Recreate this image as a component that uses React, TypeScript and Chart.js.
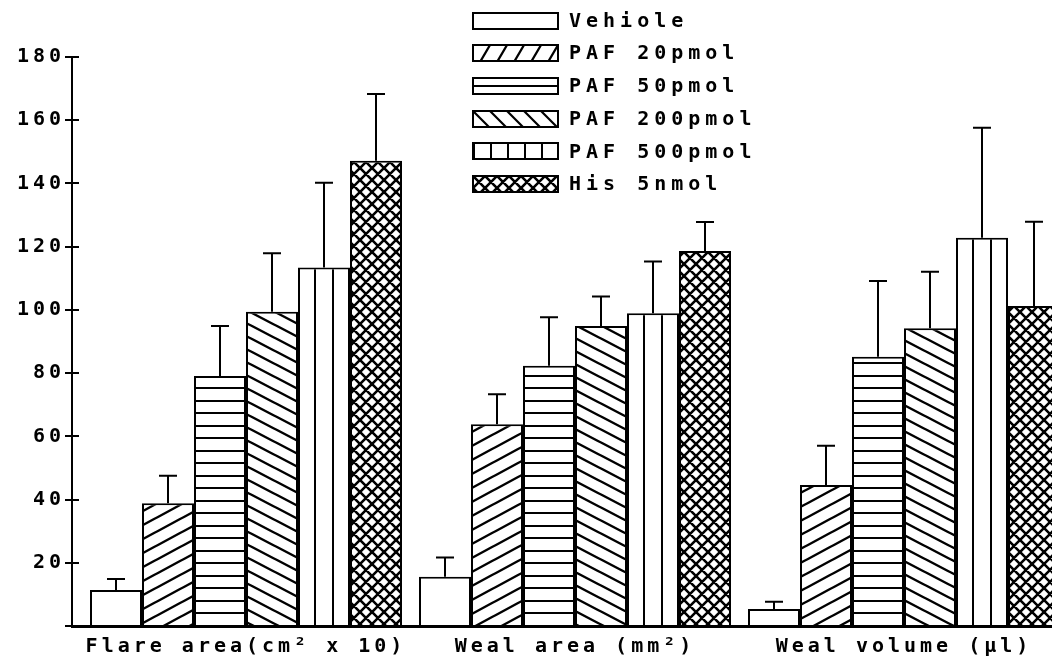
import React, { useEffect, useRef } from "react";
import { Chart, registerables } from "chart.js";

Chart.register(...registerables);

// ---------------- data ----------------
const categories = ["Flare area(cm² x 10)", "Weal area (mm²)", "Weal volume (µl)"];
const seriesLabels = ["Vehiole", "PAF 20pmol", "PAF 50pmol", "PAF 200pmol", "PAF 500pmol", "His 5nmol"];

const vehicle = [11.4, 15.6, 5.4];
const paf20 = [38.8, 63.8, 44.6];
const paf50 = [79.1, 82.3, 85.2];
const paf200 = [99.4, 94.9, 94.2];
const paf500 = [113.4, 98.9, 122.8];
const his = [147.2, 118.6, 101.2];

const vehicleErr = [3.5, 6.1, 2.3];
const paf20Err = [8.7, 9.5, 12.4];
const paf50Err = [15.8, 15.4, 23.9];
const paf200Err = [18.5, 9.3, 17.9];
const paf500Err = [26.8, 16.4, 34.8];
const hisErr = [21.1, 9.2, 26.7];

const yMin = 0;
const yMax = 180;
const yStep = 20;

const seriesValues = [vehicle, paf20, paf50, paf200, paf500, his];
const seriesErrors = [vehicleErr, paf20Err, paf50Err, paf200Err, paf500Err, hisErr];

// ---------------- layout / style ----------------
const FAMILY = "'DejaVu Sans Mono', 'Liberation Mono', monospace";
const FONT_SIZE = 20;
const LETTER_SPACING = "4px";
const LEGEND_SPACING = "5px";
const CAT_PCT = 312 / 329;
const Y_AXIS_WIDTH = 72;
const X_AXIS_HEIGHT = 32;
const PITCH = 329;
const X_MIN = -174 / PITCH;
const X_MAX = X_MIN + (1052 - Y_AXIS_WIDTH) / PITCH;

type Draw = (g: CanvasRenderingContext2D, w: number, h: number) => void;

function makeTile(w: number, h: number, draw: Draw): HTMLCanvasElement {
  const c = document.createElement("canvas");
  c.width = w;
  c.height = h;
  const g = c.getContext("2d")!;
  g.fillStyle = "#fff";
  g.fillRect(0, 0, w, h);
  g.strokeStyle = "#000";
  g.fillStyle = "#000";
  draw(g, w, h);
  return c;
}

function diagLines(g: CanvasRenderingContext2D, w: number, h: number, dir: number) {
  for (const dy of [-h, 0, h]) {
    if (dir === 1) {
      g.moveTo(-w, 2 * h + dy);
      g.lineTo(2 * w, -h + dy);
    } else {
      g.moveTo(-w, -h + dy);
      g.lineTo(2 * w, 2 * h + dy);
    }
  }
}

function diagPattern(ctx: CanvasRenderingContext2D, w: number, h: number, lw: number, dir: number) {
  const tile = makeTile(w, h, (g) => {
    g.lineWidth = lw;
    g.beginPath();
    diagLines(g, w, h, dir);
    g.stroke();
  });
  return ctx.createPattern(tile, "repeat")!;
}

function crossPattern(ctx: CanvasRenderingContext2D, w: number, h: number, lw: number) {
  const tile = makeTile(w, h, (g) => {
    g.lineWidth = lw;
    g.beginPath();
    diagLines(g, w, h, 1);
    diagLines(g, w, h, -1);
    g.stroke();
  });
  return ctx.createPattern(tile, "repeat")!;
}

function horizPattern(ctx: CanvasRenderingContext2D, ys: number[], h: number) {
  const tile = makeTile(4, h, (g) => {
    ys.forEach((y) => g.fillRect(0, y, 4, 2));
  });
  return ctx.createPattern(tile, "repeat")!;
}

function vertPatternSimple(ctx: CanvasRenderingContext2D, w: number) {
  const tile = makeTile(w, 4, (g) => {
    g.fillRect(0, 0, 2, 4);
  });
  return ctx.createPattern(tile, "repeat")!;
}

// vertical lines at thirds of the PAF 500 bars, aligned through the x scale
function verticalBarPattern(chart: any) {
  const xs = chart.scales && chart.scales.x;
  if (!xs) return "#fff";
  const p0 = xs.getPixelForValue(0);
  const p1 = xs.getPixelForValue(1);
  const pitch = p1 - p0;
  if (!isFinite(pitch) || pitch <= 0) return "#fff";
  const size = pitch * CAT_PCT;
  const chunk = size / seriesLabels.length;
  const barLeft = p0 - size / 2 + 4 * chunk;
  const W = Math.max(1, Math.round(pitch));
  const tile = makeTile(W, 4, (g) => {
    [1, 2].forEach((k) => {
      const x = (((barLeft + (k * chunk) / 3) % W) + W) % W;
      g.fillRect(Math.round(x) - 1, 0, 2, 4);
    });
  });
  return chart.ctx.createPattern(tile, "repeat");
}

const spacingPlugin = {
  id: "letterSpacing",
  beforeUpdate(chart: any) {
    chart.ctx.letterSpacing = LETTER_SPACING;
  },
  beforeLayout(chart: any) {
    chart.ctx.letterSpacing = LETTER_SPACING;
  },
  beforeDraw(chart: any) {
    chart.ctx.letterSpacing = LETTER_SPACING;
  },
};

const innerTicksPlugin = {
  id: "innerTicks",
  afterDraw(chart: any) {
    const ys = chart.scales.y;
    const { ctx, chartArea } = chart;
    ctx.save();
    ctx.strokeStyle = "#000";
    ctx.lineWidth = 2;
    ys.ticks.forEach((t: any, i: number) => {
      if (t.value === 0) return;
      const y = Math.round(ys.getPixelForTick(i));
      ctx.beginPath();
      ctx.moveTo(chartArea.left, y);
      ctx.lineTo(chartArea.left + 7, y);
      ctx.stroke();
    });
    ctx.restore();
  },
};

const errorBarPlugin = {
  id: "errorBars",
  afterDatasetsDraw(chart: any) {
    const { ctx } = chart;
    const ys = chart.scales.y;
    ctx.save();
    ctx.strokeStyle = "#000";
    ctx.lineWidth = 2;
    chart.data.datasets.forEach((_: any, d: number) => {
      const meta = chart.getDatasetMeta(d);
      meta.data.forEach((el: any, i: number) => {
        const v = seriesValues[d][i];
        const e = seriesErrors[d][i];
        const x = Math.round(el.x);
        const yTop = ys.getPixelForValue(v);
        const yErr = ys.getPixelForValue(v + e);
        ctx.beginPath();
        ctx.moveTo(x, yTop);
        ctx.lineTo(x, yErr);
        ctx.moveTo(x - 9, yErr);
        ctx.lineTo(x + 9, yErr);
        ctx.stroke();
      });
    });
    ctx.restore();
  },
};

function makeLegendPlugin(fills: (string | CanvasPattern)[]) {
  return {
    id: "patternLegend",
    afterDraw(chart: any) {
      const ctx = chart.ctx;
      ctx.save();
      ctx.letterSpacing = LEGEND_SPACING;
      ctx.font = `bold ${FONT_SIZE}px ${FAMILY}`;
      ctx.textBaseline = "middle";
      ctx.textAlign = "left";
      seriesLabels.forEach((label, d) => {
        const cy = 20.5 + d * 32.7;
        const sx = 473;
        const sy = Math.round(cy - 8);
        const sw = 85;
        const sh = 16;
        ctx.save();
        ctx.translate(sx, sy);
        ctx.fillStyle = fills[d];
        ctx.fillRect(0, 0, sw, sh);
        ctx.restore();
        ctx.lineWidth = 2;
        ctx.strokeStyle = "#000";
        ctx.strokeRect(sx, sy, sw, sh);
        ctx.fillStyle = "#000";
        ctx.fillText(label, 569, cy + 1);
      });
      ctx.restore();
    },
  };
}

export default function App() {
  const canvasRef = useRef<HTMLCanvasElement | null>(null);

  useEffect(() => {
    const canvas = canvasRef.current;
    if (!canvas) return;
    const ctx = canvas.getContext("2d")!;

    const barFills: any[] = [
      "#fff",
      diagPattern(ctx, 26, 14, 2.4, 1),
      horizPattern(ctx, [0, 12], 25),
      diagPattern(ctx, 25, 13, 2.4, -1),
      (c: any) => verticalBarPattern(c.chart),
      crossPattern(ctx, 12, 12, 2.6),
    ];
    const legendFills = [
      "#fff",
      diagPattern(ctx, 17, 29, 2.2, 1),
      horizPattern(ctx, [7], 16),
      diagPattern(ctx, 17, 17, 2.2, -1),
      vertPatternSimple(ctx, 17),
      crossPattern(ctx, 12, 12, 2.6),
    ];

    const font = { family: FAMILY, size: FONT_SIZE, weight: "bold" as const };

    const chart = new Chart(ctx, {
      type: "bar",
      data: {
        datasets: seriesLabels.map((label, d) => ({
          label,
          data: seriesValues[d].map((v, i) => ({ x: i, y: v })),
          backgroundColor: barFills[d],
          borderColor: "#000",
          borderWidth: 2,
          borderSkipped: "start" as const,
          categoryPercentage: CAT_PCT,
          barPercentage: 1,
        })),
      },
      options: {
        animation: false,
        responsive: true,
        maintainAspectRatio: false,
        devicePixelRatio: 1,
        events: [],
        layout: { padding: { top: 57, right: 0, bottom: 0, left: 0 } },
        plugins: {
          legend: { display: false },
          tooltip: { enabled: false },
        },
        scales: {
          x: {
            type: "linear",
            offset: false,
            min: X_MIN,
            max: X_MAX,
            grid: { display: false, drawTicks: false, offset: false },
            border: { display: true, color: "#000", width: 3, z: 1 },
            afterBuildTicks: (s: any) => {
              s.ticks = categories.map((_, i) => ({ value: i }));
            },
            afterFit: (s: any) => {
              s.height = X_AXIS_HEIGHT;
            },
            ticks: {
              autoSkip: false,
              maxRotation: 0,
              minRotation: 0,
              padding: 9,
              color: "#000",
              font,
              callback: (v: any) => categories[Math.round(Number(v))] ?? "",
            },
          },
          y: {
            min: yMin,
            max: yMax,
            afterFit: (s: any) => {
              s.width = Y_AXIS_WIDTH;
            },
            grid: {
              display: true,
              drawOnChartArea: false,
              drawTicks: true,
              tickLength: 7,
              color: "#000",
              lineWidth: 2,
            },
            border: { display: true, color: "#000", width: 2, z: 1 },
            ticks: {
              stepSize: yStep,
              padding: 0,
              color: "#000",
              font,
              callback: (v: any) => (Number(v) === 0 ? "" : String(v)),
            },
          },
        },
      },
      plugins: [spacingPlugin, innerTicksPlugin, errorBarPlugin, makeLegendPlugin(legendFills)],
    } as any);

    return () => {
      chart.destroy();
    };
  }, []);

  return (
    <div
      style={{
        position: "fixed",
        left: 0,
        top: 0,
        width: 1052,
        height: 658,
        background: "#fff",
      }}
    >
      <canvas ref={canvasRef} />
    </div>
  );
}
